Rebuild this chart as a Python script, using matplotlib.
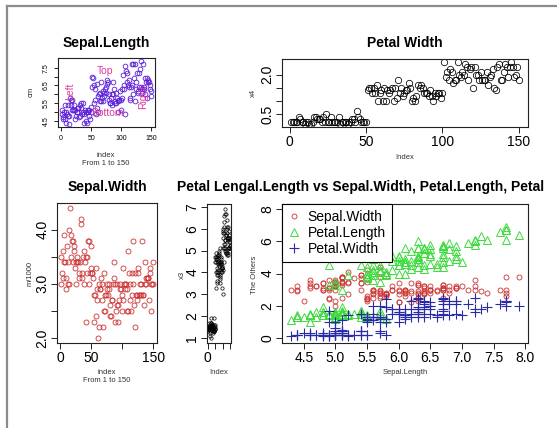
import matplotlib
matplotlib.use('Agg')
import matplotlib.pyplot as plt
from matplotlib.lines import Line2D

# iris data, rows 1..150
sepal_length = [5.1, 4.9, 4.7, 4.6, 5.0, 5.4, 4.6, 5.0, 4.4, 4.9, 5.4, 4.8, 4.8, 4.3, 5.8, 5.7, 5.4, 5.1, 5.7, 5.1,
                5.4, 5.1, 4.6, 5.1, 4.8, 5.0, 5.0, 5.2, 5.2, 4.7, 4.8, 5.4, 5.2, 5.5, 4.9, 5.0, 5.5, 4.9, 4.4, 5.1,
                5.0, 4.5, 4.4, 5.0, 5.1, 4.8, 5.1, 4.6, 5.3, 5.0, 7.0, 6.4, 6.9, 5.5, 6.5, 5.7, 6.3, 4.9, 6.6, 5.2,
                5.0, 5.9, 6.0, 6.1, 5.6, 6.7, 5.6, 5.8, 6.2, 5.6, 5.9, 6.1, 6.3, 6.1, 6.4, 6.6, 6.8, 6.7, 6.0, 5.7,
                5.5, 5.5, 5.8, 6.0, 5.4, 6.0, 6.7, 6.3, 5.6, 5.5, 5.5, 6.1, 5.8, 5.0, 5.6, 5.7, 5.7, 6.2, 5.1, 5.7,
                6.3, 5.8, 7.1, 6.3, 6.5, 7.6, 4.9, 7.3, 6.7, 7.2, 6.5, 6.4, 6.8, 5.7, 5.8, 6.4, 6.5, 7.7, 7.7, 6.0,
                6.9, 5.6, 7.7, 6.3, 6.7, 7.2, 6.2, 6.1, 6.4, 7.2, 7.4, 7.9, 6.4, 6.3, 6.1, 7.7, 6.3, 6.4, 6.0, 6.9,
                6.7, 6.9, 5.8, 6.8, 6.7, 6.7, 6.3, 6.5, 6.2, 5.9]
sepal_width = [3.5, 3.0, 3.2, 3.1, 3.6, 3.9, 3.4, 3.4, 2.9, 3.1, 3.7, 3.4, 3.0, 3.0, 4.0, 4.4, 3.9, 3.5, 3.8, 3.8,
               3.4, 3.7, 3.6, 3.3, 3.4, 3.0, 3.4, 3.5, 3.4, 3.2, 3.1, 3.4, 4.1, 4.2, 3.1, 3.2, 3.5, 3.6, 3.0, 3.4,
               3.5, 2.3, 3.2, 3.5, 3.8, 3.0, 3.8, 3.2, 3.7, 3.3, 3.2, 3.2, 3.1, 2.3, 2.8, 2.8, 3.3, 2.4, 2.9, 2.7,
               2.0, 3.0, 2.2, 2.9, 2.9, 3.1, 3.0, 2.7, 2.2, 2.5, 3.2, 2.8, 2.5, 2.8, 2.9, 3.0, 2.8, 3.0, 2.9, 2.6,
               2.4, 2.4, 2.7, 2.7, 3.0, 3.4, 3.1, 2.3, 3.0, 2.5, 2.6, 3.0, 2.6, 2.3, 2.7, 3.0, 2.9, 2.9, 2.5, 2.8,
               3.3, 2.7, 3.0, 2.9, 3.0, 3.0, 2.5, 2.9, 2.5, 3.6, 3.2, 2.7, 3.0, 2.5, 2.8, 3.2, 3.0, 3.8, 2.6, 2.2,
               3.2, 2.8, 2.8, 2.7, 3.3, 3.2, 2.8, 3.0, 2.8, 3.0, 2.8, 3.8, 2.8, 2.8, 2.6, 3.0, 3.4, 3.1, 3.0, 3.1,
               3.1, 3.1, 2.7, 3.2, 3.3, 3.0, 2.5, 3.0, 3.4, 3.0]
petal_length = [1.4, 1.4, 1.3, 1.5, 1.4, 1.7, 1.4, 1.5, 1.4, 1.5, 1.5, 1.6, 1.4, 1.1, 1.2, 1.5, 1.3, 1.4, 1.7, 1.5,
                1.7, 1.5, 1.0, 1.7, 1.9, 1.6, 1.6, 1.5, 1.4, 1.6, 1.6, 1.5, 1.5, 1.4, 1.5, 1.2, 1.3, 1.4, 1.3, 1.5,
                1.3, 1.3, 1.3, 1.6, 1.9, 1.4, 1.6, 1.4, 1.5, 1.4, 4.7, 4.5, 4.9, 4.0, 4.6, 4.5, 4.7, 3.3, 4.6, 3.9,
                3.5, 4.2, 4.0, 4.7, 3.6, 4.4, 4.5, 4.1, 4.5, 3.9, 4.8, 4.0, 4.9, 4.7, 4.3, 4.4, 4.8, 5.0, 4.5, 3.5,
                3.8, 3.7, 3.9, 5.1, 4.5, 4.5, 4.7, 4.4, 4.1, 4.0, 4.4, 4.6, 4.0, 3.3, 4.2, 4.2, 4.2, 4.3, 3.0, 4.1,
                6.0, 5.1, 5.9, 5.6, 5.8, 6.6, 4.5, 6.3, 5.8, 6.1, 5.1, 5.3, 5.5, 5.0, 5.1, 5.3, 5.5, 6.7, 6.9, 5.0,
                5.7, 4.9, 6.7, 4.9, 5.7, 6.0, 4.8, 4.9, 5.6, 5.8, 6.1, 6.4, 5.6, 5.1, 5.6, 6.1, 5.6, 5.5, 4.8, 5.4,
                5.6, 5.1, 5.1, 5.9, 5.7, 5.2, 5.0, 5.2, 5.4, 5.1]
petal_width = [0.2, 0.2, 0.2, 0.2, 0.2, 0.4, 0.3, 0.2, 0.2, 0.1, 0.2, 0.2, 0.1, 0.1, 0.2, 0.4, 0.4, 0.3, 0.3, 0.3,
               0.2, 0.4, 0.2, 0.5, 0.2, 0.2, 0.4, 0.2, 0.2, 0.2, 0.2, 0.4, 0.1, 0.2, 0.2, 0.2, 0.2, 0.1, 0.2, 0.2,
               0.3, 0.3, 0.2, 0.6, 0.4, 0.3, 0.2, 0.2, 0.2, 0.2, 1.4, 1.5, 1.5, 1.3, 1.5, 1.3, 1.6, 1.0, 1.3, 1.4,
               1.0, 1.5, 1.0, 1.4, 1.3, 1.4, 1.5, 1.0, 1.5, 1.1, 1.8, 1.3, 1.5, 1.2, 1.3, 1.4, 1.4, 1.7, 1.5, 1.0,
               1.1, 1.0, 1.2, 1.6, 1.5, 1.6, 1.5, 1.3, 1.3, 1.3, 1.2, 1.4, 1.2, 1.0, 1.3, 1.2, 1.3, 1.3, 1.1, 1.3,
               2.5, 1.9, 2.1, 1.8, 2.2, 2.1, 1.7, 1.8, 1.8, 2.5, 2.0, 1.9, 2.1, 2.0, 2.4, 2.3, 1.8, 2.2, 2.3, 1.5,
               2.3, 2.0, 2.0, 1.8, 2.1, 1.8, 1.8, 1.8, 2.1, 1.6, 1.9, 2.0, 2.2, 1.5, 1.4, 2.3, 2.4, 1.8, 1.8, 2.1,
               2.4, 2.3, 1.9, 2.3, 2.5, 2.3, 1.9, 2.0, 2.3, 1.8]
index = list(range(1, 151))

legend_labels = ['Sepal.Width', 'Petal.Length', 'Petal.Width']

plt.rcParams['font.family'] = ['Liberation Sans', 'DejaVu Sans']

W, H = 557, 428
fig = plt.figure(figsize=(W / 100, H / 100), dpi=100)


def box(l, t, r, b):
    return [l / W, 1 - b / H, (r - l) / W, (b - t) / H]


def txt(x, y, s, **kw):
    fig.text(x / W, 1 - y / H, s, **kw)


def rlim(lo, hi):
    d = (hi - lo) * 0.04
    return lo - d, hi + d


def style(ax, fs, tlen, pad):
    for sp in ax.spines.values():
        sp.set_linewidth(0.8)
        sp.set_color('#222222')
    ax.tick_params(length=tlen, width=0.7, labelsize=fs, pad=pad, color='#222222')
    ax.tick_params(axis='y', labelrotation=90)
    for lab in ax.get_yticklabels():
        lab.set_va('center')


# ---- Sepal.Length (top left)
ax1 = fig.add_axes(box(58, 58, 155, 127))
ax1.plot(index, sepal_length, ls='none', marker='o', mfc='none', mec='#5b1ed8', ms=3.4, mew=0.6)
ax1.set_xlim(rlim(1, 150))
ax1.set_ylim(rlim(4.3, 7.9))
ax1.set_xticks([0, 50, 100, 150])
ax1.set_yticks([4.5, 5.0, 5.5, 6.0, 6.5, 7.0, 7.5])
ax1.set_yticklabels(['4.5', '', '5.5', '', '6.5', '', '7.5'])
style(ax1, 5, 3, 3)
tc = '#e0389e'
ax1.text(0.485, 0.81, 'Top', transform=ax1.transAxes, color=tc, fontsize=7.5, ha='center', va='center')
ax1.text(0.505, 0.20, 'Bottom', transform=ax1.transAxes, color=tc, fontsize=7.5, ha='center', va='center')
ax1.text(0.124, 0.51, 'Left', transform=ax1.transAxes, color=tc, fontsize=7.5, ha='center', va='center', rotation=90)
ax1.text(0.876, 0.43, 'Right', transform=ax1.transAxes, color=tc, fontsize=7.5, ha='center', va='center', rotation=90)
txt(106, 43, 'Sepal.Length', fontsize=10, fontweight='bold', ha='center', va='center')
txt(106, 156, 'index', fontsize=5.5, ha='center', va='center', color='#333333')
txt(106, 164, 'From 1 to 150', fontsize=5.5, ha='center', va='center', color='#333333')
txt(31, 92, 'cm', fontsize=5.5, ha='center', va='center', rotation=90, color='#333333')

# ---- Petal Width (top right)
ax2 = fig.add_axes(box(282, 59, 528, 127))
ax2.plot(index, petal_width, ls='none', marker='o', mfc='none', mec='black', ms=4.6, mew=0.55)
ax2.set_xlim(rlim(1, 150))
ax2.set_ylim(rlim(0.1, 2.5))
ax2.set_xticks([0, 50, 100, 150])
ax2.set_yticks([0.5, 1.0, 1.5, 2.0])
ax2.set_yticklabels(['0.5', '', '', '2.0'])
style(ax2, 10, 4, 1.5)
txt(405, 43, 'Petal Width', fontsize=10, fontweight='bold', ha='center', va='center')
txt(405, 157, 'Index', fontsize=5.5, ha='center', va='center', color='#333333')
txt(253, 93, 'x4', fontsize=5.5, ha='center', va='center', rotation=90, color='#333333')

# ---- Sepal.Width (bottom left)
ax3 = fig.add_axes(box(57, 203, 157, 343))
ax3.plot(index, sepal_width, ls='none', marker='o', mfc='none', mec='#cd3333', ms=3.6, mew=0.6)
ax3.set_xlim(rlim(1, 150))
ax3.set_ylim(rlim(2.0, 4.4))
ax3.set_xticks([0, 50, 100, 150])
ax3.set_xticklabels(['0', '50', '', '150'])
ax3.set_yticks([2.0, 2.5, 3.0, 3.5, 4.0])
ax3.set_yticklabels(['2.0', '', '3.0', '', '4.0'])
style(ax3, 10, 4, 1.5)
txt(107, 187, 'Sepal.Width', fontsize=10, fontweight='bold', ha='center', va='center')
txt(107, 372, 'index', fontsize=5.5, ha='center', va='center', color='#333333')
txt(107, 381, 'From 1 to 150', fontsize=5.5, ha='center', va='center', color='#333333')
txt(30, 273, 'm/1000', fontsize=5.5, ha='center', va='center', rotation=90, color='#333333')

# ---- Petal.Length (narrow)
ax4 = fig.add_axes(box(207, 204, 231, 343))
ax4.plot(index, petal_length, ls='none', marker='o', mfc='none', mec='black', ms=2.4, mew=0.5)
ax4.set_xlim(rlim(1, 150))
ax4.set_ylim(rlim(1.0, 6.9))
ax4.set_xticks([0, 50, 100, 150])
ax4.set_xticklabels(['0', '', '', ''])
ax4.set_yticks([1, 2, 3, 4, 5, 6, 7])
style(ax4, 10, 4, 1.5)
txt(219, 372, 'Index', fontsize=5.5, ha='center', va='center', color='#333333')
txt(182, 275, 'x3', fontsize=5.5, ha='center', va='center', rotation=90, color='#333333')

# ---- all vs Sepal.Length (big)
ax5 = fig.add_axes(box(282, 204, 528, 343))
h1, = ax5.plot(sepal_length, sepal_width, ls='none', marker='o', mfc='none', mec='#cd3333', ms=3.6, mew=0.6)
h2, = ax5.plot(sepal_length, petal_length, ls='none', marker='^', mfc='none', mec='#3ddc3d', ms=5.2, mew=0.7)
h3, = ax5.plot(sepal_length, petal_width, ls='none', marker='+', color='#2a2aa8', ms=7, mew=0.8)
ax5.set_xlim(rlim(4.3, 7.9))
ax5.set_ylim(rlim(0, 8))
ax5.set_xticks([4.5, 5.0, 5.5, 6.0, 6.5, 7.0, 7.5, 8.0])
ax5.set_xticklabels(['4.5', '5.0', '5.5', '6.0', '6.5', '7.0', '7.5', '8.0'])
ax5.set_yticks([0, 2, 4, 6, 8])
style(ax5, 10, 4, 1.5)
leg = ax5.legend([h1, h2, h3], legend_labels, loc='upper left', borderaxespad=0, fontsize=10,
                 fancybox=False, framealpha=1, edgecolor='black', handlelength=0.9,
                 handletextpad=0.5, labelspacing=0.12, borderpad=0.45)
leg.get_frame().set_linewidth(0.8)
txt(177, 187, 'Petal Lengal.Length vs Sepal.Width, Petal.Length, Petal', fontsize=10,
    fontweight='bold', ha='left', va='center')
txt(405, 373, 'Sepal.Length', fontsize=5.5, ha='center', va='center', color='#333333')
txt(255, 275, 'The Others', fontsize=5.5, ha='center', va='center', rotation=90, color='#333333')

# window frame lines
fig.add_artist(Line2D([7 / W, 1], [1 - 6 / H, 1 - 6 / H], color='#8c8c8c', lw=1.6))
fig.add_artist(Line2D([7 / W, 7 / W], [1 - 6 / H, 0], color='#8c8c8c', lw=1.6))

fig.savefig('out.png', dpi=100)
